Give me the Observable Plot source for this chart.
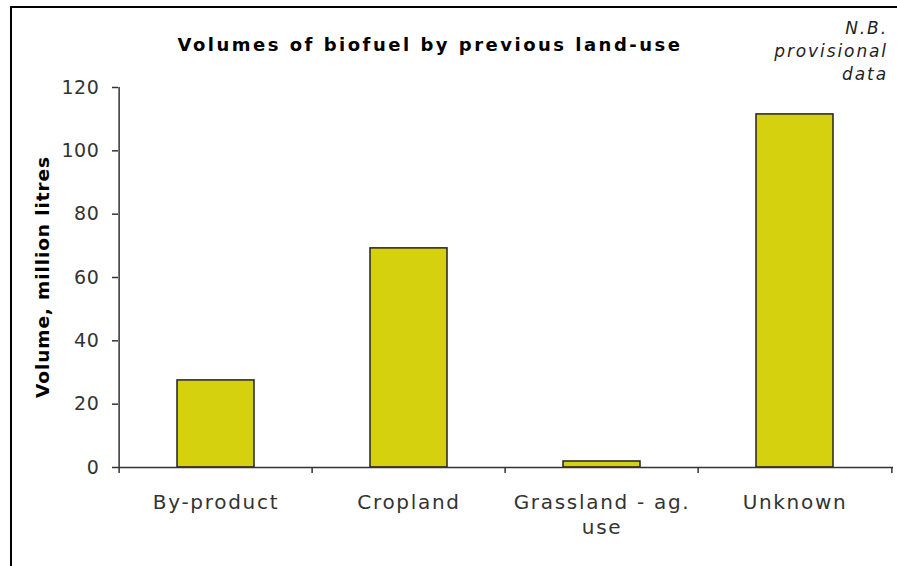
<!DOCTYPE html>
<html>
<head>
<meta charset="utf-8">
<script src="https://cdn.jsdelivr.net/npm/d3@7"></script>
<script src="https://cdn.jsdelivr.net/npm/@observablehq/plot@0.6"></script>
<style>
  html, body { margin: 0; padding: 0; background: #fff; }
  #wrap { position: relative; width: 897px; height: 566px; overflow: hidden; font-family: "DejaVu Sans", Verdana, sans-serif; }
  #wrap svg { position: absolute; left: 0; top: 0; }
  #wrap svg g[aria-label="x-axis tick label"] text { letter-spacing: 1.7px; }
  #wrap svg g[aria-label="y-axis tick label"] text { letter-spacing: 0.6px; }
  #border { position: absolute; left: 10px; top: 6px; right: -4px; bottom: -4px; border-left: 2px solid #000; border-top: 2px solid #000; }
  #title { position: absolute; left: 430px; top: 34px; transform: translateX(-50%); white-space: nowrap; font-weight: bold; font-size: 18px; letter-spacing: 2.5px; color: #000; }
  #note { position: absolute; right: 9px; top: 17px; text-align: right; font-style: italic; font-size: 17px; line-height: 23px; color: #222; letter-spacing: 1.9px; }
  #ylabel { position: absolute; left: 42px; top: 277px; transform: translate(-50%, -50%) rotate(-90deg); white-space: nowrap; font-weight: bold; font-size: 18.5px; letter-spacing: 0.9px; color: #000; }
</style>
</head>
<body>
<div id="wrap">
  <div id="chart"></div>
  <div id="border"></div>
  <div id="title">Volumes of biofuel by previous land-use</div>
  <div id="note">N.B.<br>provisional<br>data</div>
  <div id="ylabel">Volume, million litres</div>
</div>
<script>
const categories = ["By-product", "Cropland", "Grassland - ag. use", "Unknown"];
const volumes = [27.5, 69.2, 1.9, 111.5];
const yTicks = [0, 20, 40, 60, 80, 100, 120];
const wrappedLabels = {"Grassland - ag. use": "Grassland - ag.\nuse"};

const data = categories.map((c, i) => ({category: c, value: volumes[i]}));

const W = 897, H = 566;
const margin = {top: 87, right: 4, bottom: 99, left: 118};
const step = (W - margin.left - margin.right) / categories.length;
const axisColor = "#333";

const chart = Plot.plot({
  width: W,
  height: H,
  marginTop: margin.top,
  marginRight: margin.right,
  marginBottom: margin.bottom,
  marginLeft: margin.left,
  style: {fontFamily: "'DejaVu Sans', Verdana, sans-serif", background: "transparent", overflow: "visible"},
  x: {domain: categories, paddingInner: 0.6, paddingOuter: 0.3, label: null},
  y: {domain: [0, 120], label: null},
  marks: [
    Plot.barY(data, {x: "category", y: "value", fill: "#d5d10e", stroke: "#222", strokeWidth: 1.5}),
    Plot.ruleY([0], {stroke: axisColor, strokeWidth: 1.5}),
    // left axis line (extends a little below the x axis)
    Plot.ruleX([categories[0]], {x: d => d, dx: -step / 2, y1: 0, y2: 120, insetTop: 6, stroke: axisColor, strokeWidth: 1.5}),
    // category boundary ticks
    Plot.ruleX(categories.slice(1), {x: d => d, dx: -step / 2, y1: 0, y2: 0, insetTop: 6, stroke: axisColor, strokeWidth: 1.5}),
    Plot.ruleX([categories[categories.length - 1]], {x: d => d, dx: step / 2, y1: 0, y2: 0, insetTop: 6, stroke: axisColor, strokeWidth: 1.5}),
    Plot.axisY({ticks: yTicks, tickSize: 6, tickPadding: 13, fontSize: 19, stroke: axisColor, fill: "#333", strokeWidth: 1.5, label: null, tickFormat: d => String(d)}),
    Plot.axisX({tickSize: 0, tickPadding: 24, fontSize: 20, fill: "#333", lineHeight: 1.25, label: null, tickFormat: d => wrappedLabels[d] || d})
  ]
});
document.getElementById("chart").appendChild(chart);
</script>
</body>
</html>
